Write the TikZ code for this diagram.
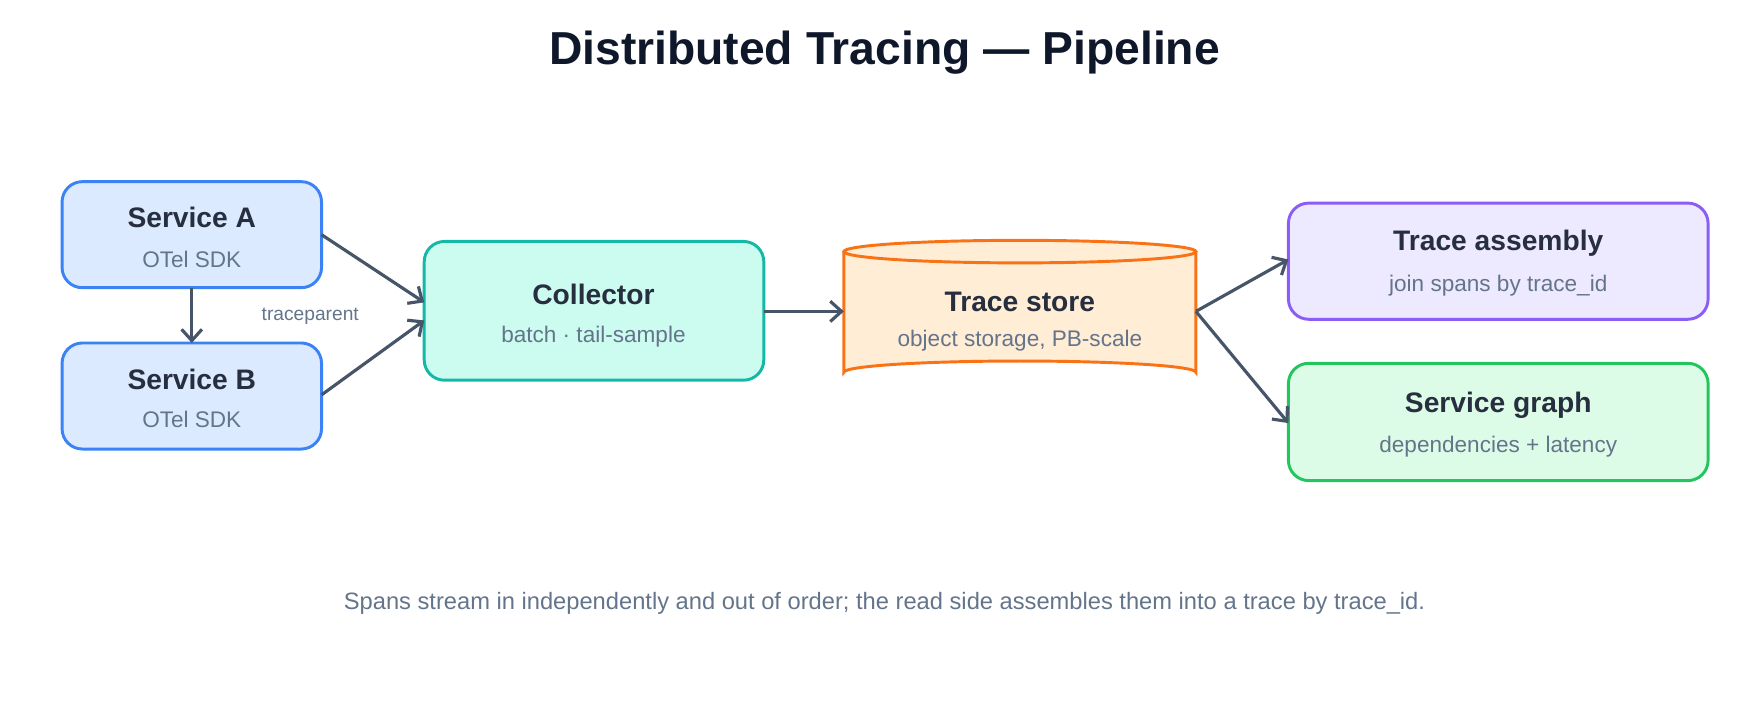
\documentclass[tikz,border=0pt]{standalone}
\usepackage{fontspec}
\setmainfont{Liberation Sans}
\usetikzlibrary{arrows.meta,shapes.geometric}
\definecolor{ink}{HTML}{0F172A}
\definecolor{sub}{HTML}{64748B}
\definecolor{arr}{HTML}{475569}
\definecolor{bluD}{HTML}{3B82F6}\definecolor{bluF}{HTML}{DBEAFE}
\definecolor{tealD}{HTML}{14B8A6}\definecolor{tealF}{HTML}{CCFBEF}
\definecolor{oraD}{HTML}{F97316}\definecolor{oraF}{HTML}{FFEDD5}
\definecolor{vioD}{HTML}{8B5CF6}\definecolor{vioF}{HTML}{EDE9FE}
\definecolor{grnD}{HTML}{22C55E}\definecolor{grnF}{HTML}{DCFCE7}
\begin{document}
\begin{tikzpicture}[x=0.5pt,y=-0.5pt,
 box/.style={draw,line width=1.3pt,rounded corners=9pt},
 ttl/.style={font=\fontsize{12.5}{14}\selectfont\bfseries,text=ink!90},
 st/.style={font=\fontsize{10}{11}\selectfont,text=sub},
 con/.style={draw=arr,line width=1.4pt,-{Straight Barb[length=5pt,width=9pt,line width=1.4pt]}}]
\useasboundingbox (0,0) rectangle (1560,638);
\node[font=\fontsize{20.5}{24}\selectfont\bfseries,text=ink] (title) at (784,47) {Distributed Tracing — Pipeline};
% boxes
\draw[box,draw=bluD,fill=bluF] (55,161) rectangle (285,255);
\draw[box,draw=bluD,fill=bluF] (55,304) rectangle (285,398);
\draw[box,draw=tealD,fill=tealF] (376,214) rectangle (677,337);
\draw[box,draw=vioD,fill=vioF] (1142,180) rectangle (1514,283);
\draw[box,draw=grnD,fill=grnF] (1142,322) rectangle (1514,426);
\node (a) at (170,208) {}; \node (b) at (170,351) {};
\node (c) at (526,276) {}; \node (s) at (904,276) {};
\node (ta) at (1328,231) {}; \node (sg) at (1328,374) {};
% cylinder
\fill[oraF] (748,223) -- (748,330) arc[x radius=156,y radius=10,start angle=180,end angle=360] -- (1060,223) -- cycle;
\draw[draw=oraD,line width=1.3pt] (748,223) -- (748,330) arc[x radius=156,y radius=10,start angle=180,end angle=360] -- (1060,223);
\draw[draw=oraD,line width=1.3pt,fill=oraF] (904,223) ellipse[x radius=156,y radius=10];
% text
\node[ttl] at (170,193) {Service A}; \node[st] at (170,230) {OTel SDK};
\node[ttl] at (170,336) {Service B}; \node[st] at (170,372) {OTel SDK};
\node[ttl] at (526,261) {Collector}; \node[st] at (526,298) {batch · tail-sample};
\node[ttl] at (904,268) {Trace store}; \node[st] at (904,302) {object storage, PB-scale};
\node[ttl] at (1328,216) {Trace assembly}; \node[st] at (1328,253) {join spans by trace\_id};
\node[ttl] at (1328,359) {Service graph}; \node[st] at (1328,396) {dependencies + latency};
% connectors
\coordinate (a1) at (285,208); \coordinate (c1) at (376,268);
\coordinate (b1) at (285,350); \coordinate (c2) at (376,284);
\coordinate (a2) at (170,255); \coordinate (b2) at (170,304);
\coordinate (c3) at (677,276); \coordinate (s1) at (748,276);
\coordinate (s2) at (1060,276); \coordinate (t1) at (1142,230); \coordinate (g1) at (1142,375);
\path[con] (a1) -- (c1);
\path[con] (b1) -- (c2);
\path[con] (a2) -- (b2);
\path[con] (c3) -- (s1);
\path[con] (s2) -- (t1);
\path[con] (s2) -- (g1);
\node[font=\fontsize{8.5}{10}\selectfont,text=sub] (tp) at (275,280) {traceparent};
\node[font=\fontsize{10.5}{12}\selectfont,text=sub] (foot) at (784,535) {Spans stream in independently and out of order; the read side assembles them into a trace by trace\_id.};
\end{tikzpicture}
\end{document}
